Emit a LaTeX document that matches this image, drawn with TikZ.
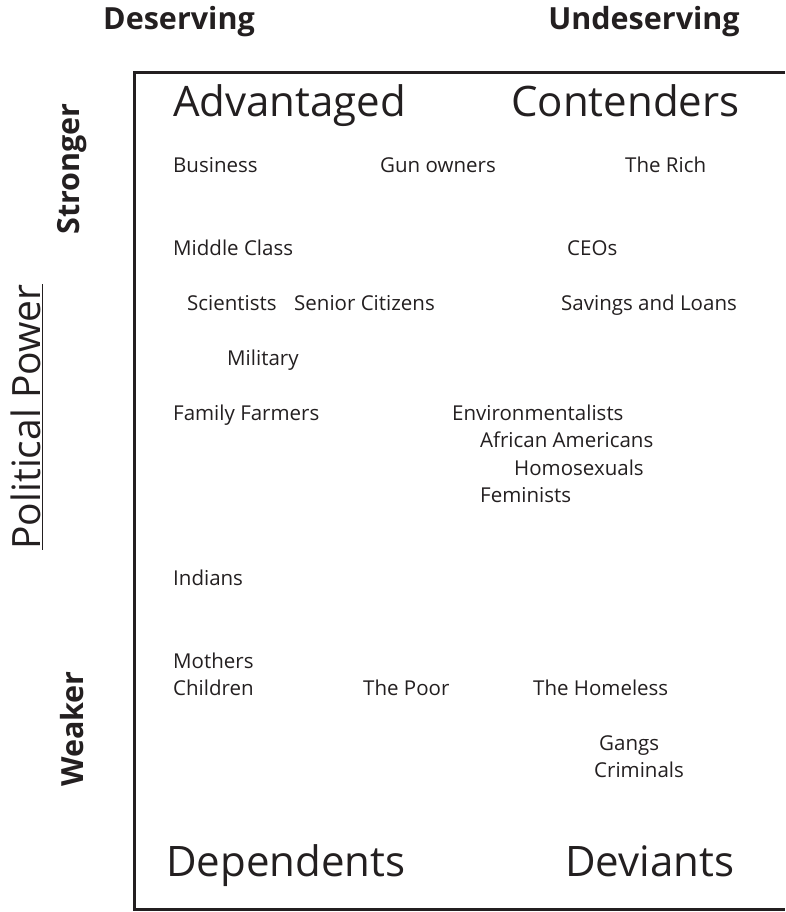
\documentclass[tikz,border=0pt]{standalone}
\usepackage{fontspec}
\setmainfont{Open Sans}
\usepackage{tikz}
\usetikzlibrary{positioning}

\definecolor{ink}{RGB}{35,31,32}

\tikzset{
  group/.style={anchor=base west, inner sep=0pt, text=ink, font=\fontsize{20.5}{24}\selectfont},
  quad/.style={anchor=base west, inner sep=0pt, text=ink, font=\fontsize{42}{48}\selectfont},
  axis/.style={inner sep=0pt, text=ink, font=\bfseries\fontsize{30.5}{34}\selectfont}
}

\begin{document}
\begin{tikzpicture}[x=1pt,y=-1pt]
\useasboundingbox (0,0) rectangle (785,912);
% frame, open on the right
\draw[ink, line width=3pt] (785,73) -- (134,73) -- (134,909) -- (785,909);
% column and row headings
\node[axis] (deserving) at (179,22) {Deserving};
\node[axis] (undeserving) at (644,22) {Undeserving};
\node[axis, rotate=90] (stronger) at (72,169) {Stronger};
\node[axis, rotate=90] (weaker) at (72,729) {Weaker};
\node[inner sep=0pt, rotate=90, text=ink, font=\fontsize{39}{44}\selectfont] (power) at (27,417) {\underline{Political Power}};
% quadrant names
\node[quad] (advantaged) at (173,117) {Advantaged};
\node[quad] (contenders) at (511,117) {Contenders};
\node[quad] (dependents) at (166,876) {Dependents};
\node[quad] (deviants) at (565,876) {Deviants};
% target groups
\node[group] (business) at (173,172) {Business};
\node[group] (gunowners) at (380,172) {Gun owners};
\node[group] (rich) at (625,172) {The Rich};
\node[group] (middle) at (173,255) {Middle Class};
\node[group] (ceos) at (567,255) {CEOs};
\node[group] (scientists) at (187,310) {Scientists};
\node[group] (seniors) at (294,310) {Senior Citizens};
\node[group] (savings) at (561,310) {Savings and Loans};
\node[group] (military) at (227,365) {Military};
\node[group] (farmers) at (173,420) {Family Farmers};
\node[group] (environ) at (452,420) {Environmentalists};
\node[group] (african) at (480,447) {African Americans};
\node[group] (homosex) at (514,475) {Homosexuals};
\node[group] (feminists) at (480,502) {Feminists};
\node[group] (indians) at (173,585) {Indians};
\node[group] (mothers) at (173,668) {Mothers};
\node[group] (children) at (173,695) {Children};
\node[group] (poor) at (363,695) {The Poor};
\node[group] (homeless) at (533,695) {The Homeless};
\node[group] (gangs) at (599,750) {Gangs};
\node[group] (criminals) at (594,777) {Criminals};
\end{tikzpicture}
\end{document}
